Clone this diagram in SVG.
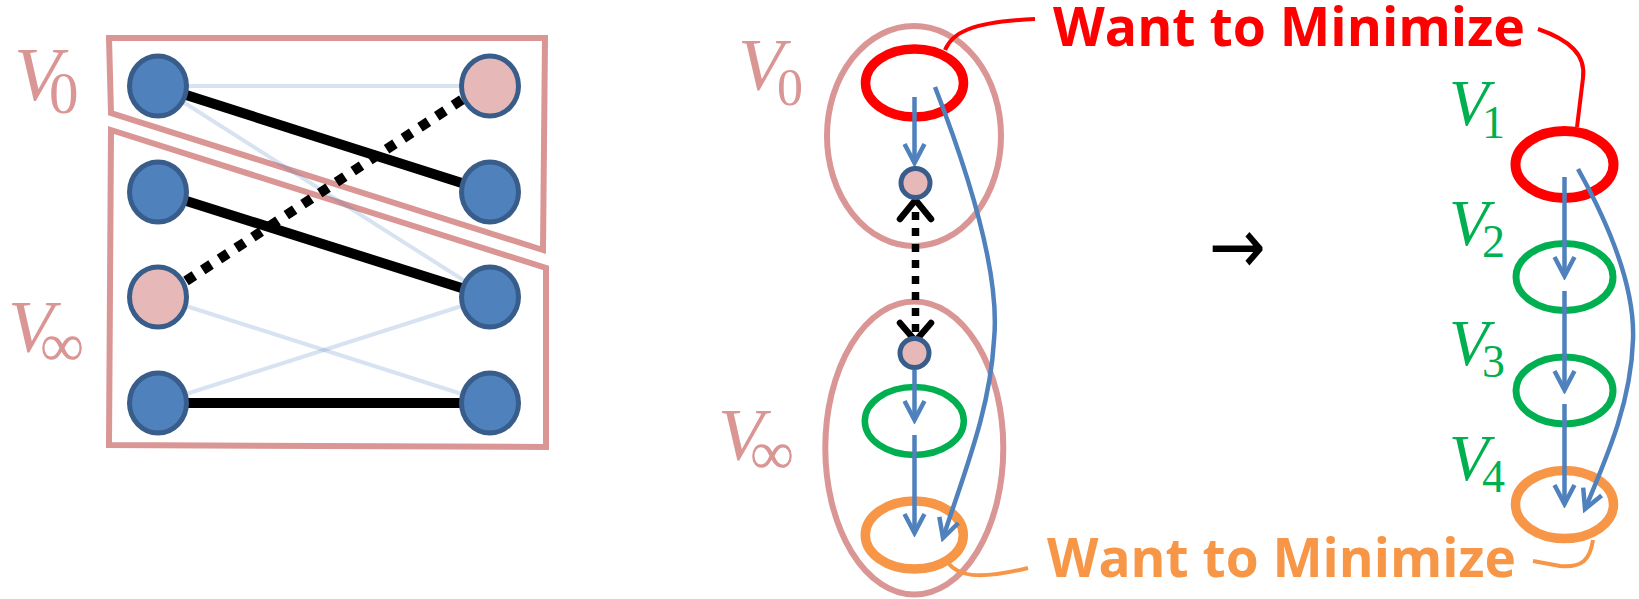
<svg xmlns="http://www.w3.org/2000/svg" width="1639" height="599" viewBox="0 0 1639 599">
  <style>
    .lbl { font-family: "Liberation Serif", "DejaVu Serif", serif; }
    .v { font-style: italic; }
    .pinkT { fill: #d99694; }
    .greenT { fill: #00b050; }
    .set { fill: none; stroke: #d99694; stroke-width: 6; stroke-linejoin: miter; }
    .node { fill: #4f81bd; stroke: #385d8a; stroke-width: 5; }
    .pnode { fill: #e6b9b8; stroke: #385d8a; stroke-width: 5; }
    .faint { stroke: #4f81bd; stroke-opacity: 0.22; stroke-width: 4; }
    .match { stroke: #000; stroke-width: 10; }
    .dot { stroke: #000; stroke-width: 10; stroke-dasharray: 10 10; }
    .arr { fill: none; stroke: #4f81bd; stroke-width: 4.5; marker-end: url(#ah); }
    .blk { fill: none; stroke: #000; stroke-width: 6.5; stroke-linecap: round; stroke-linejoin: round; }
    .big { font-family: "Open Sans", Lato, "Liberation Sans", sans-serif; font-weight: bold; font-size: 54px; }
    .ring { fill: none; }
  </style>
  <defs>
    <marker id="ah" viewBox="-24 -14 28 28" markerWidth="28" markerHeight="28" refX="0" refY="0" orient="auto" markerUnits="userSpaceOnUse">
      <path d="M-19,-10 L0,0 L-19,10" fill="none" stroke="#4f81bd" stroke-width="4.5"/>
    </marker>
  </defs>

  <!-- LEFT PANEL -->
  <g id="set-V0">
    <polygon class="set" points="109,38 545,38 543,250 111,113"/>
  </g>
  <g id="set-Vinf">
    <polygon class="set" points="111,130 546,268 546,447 109,445"/>
  </g>

  <g id="connectors-left">
    <line class="faint" x1="158" y1="86" x2="490" y2="86"/>
    <line class="faint" x1="158" y1="86" x2="490" y2="297"/>
    <line class="faint" x1="158" y1="297" x2="490" y2="403"/>
    <line class="faint" x1="158" y1="403" x2="490" y2="297"/>
    <line class="match" x1="158" y1="86" x2="490" y2="192"/>
    <line class="match" x1="158" y1="192" x2="490" y2="297"/>
    <line class="match" x1="158" y1="403" x2="490" y2="403"/>
  </g>

  <g id="nodeL1"><ellipse class="node" cx="158" cy="86" rx="28.5" ry="30"/></g>
  <g id="nodeL2"><ellipse class="node" cx="158" cy="192" rx="28.5" ry="30"/></g>
  <g id="nodeL3"><ellipse class="pnode" cx="158" cy="297" rx="28.5" ry="30"/></g>
  <g id="nodeL4"><ellipse class="node" cx="158" cy="403" rx="28.5" ry="30"/></g>
  <g id="nodeR1"><ellipse class="pnode" cx="490" cy="86" rx="28.5" ry="30"/></g>
  <g id="nodeR2"><ellipse class="node" cx="490" cy="192" rx="28.5" ry="30"/></g>
  <g id="nodeR3"><ellipse class="node" cx="490" cy="297" rx="28.5" ry="30"/></g>
  <g id="nodeR4"><ellipse class="node" cx="490" cy="403" rx="28.5" ry="30"/></g>

  <g id="connector-dotted">
    <line class="dot" x1="186" y1="281" x2="466" y2="97"/>
  </g>

  <g id="label-left">
    <text class="lbl pinkT"><tspan class="v" x="14" y="100" font-size="77">V</tspan><tspan x="49" y="113" font-size="59">0</tspan></text>
    <text class="lbl pinkT"><tspan class="v" x="8" y="352" font-size="75">V</tspan><tspan x="40" y="366" font-size="62">∞</tspan></text>
  </g>

  <!-- MIDDLE PANEL -->
  <g id="mid-V0">
    <ellipse class="ring" cx="914" cy="136" rx="87" ry="110" stroke="#d99694" stroke-width="6"/>
    <text class="lbl pinkT"><tspan class="v" x="738" y="90" font-size="75">V</tspan><tspan x="777" y="105" font-size="52">0</tspan></text>
  </g>
  <g id="mid-Vinf">
    <ellipse class="ring" cx="914.3" cy="448" rx="89" ry="146.5" stroke="#d99694" stroke-width="6"/>
    <text class="lbl pinkT"><tspan class="v" x="718" y="460" font-size="75">V</tspan><tspan x="750" y="474" font-size="62">∞</tspan></text>
  </g>
  <g id="mid-red"><ellipse class="ring" cx="914.5" cy="83" rx="49" ry="34" stroke="#ff0000" stroke-width="9.5"/></g>
  <g id="mid-green"><ellipse class="ring" cx="914.3" cy="421" rx="49.5" ry="34" stroke="#00b050" stroke-width="6.5"/></g>
  <g id="mid-orange"><ellipse class="ring" cx="914.3" cy="535" rx="49" ry="34" stroke="#f79646" stroke-width="9.5"/></g>

  <g id="connectors-mid">
    <line class="arr" x1="914.5" y1="97" x2="914.5" y2="163"/>
    <line class="arr" x1="914.5" y1="370" x2="914.5" y2="420"/>
    <line class="arr" x1="914.5" y1="435" x2="914.5" y2="533"/>
    <path class="arr" d="M935,87 C975,190 1000,280 994,340 C990,410 965,470 943,538"/>
    <line x1="915.5" y1="212" x2="915.5" y2="332" stroke="#000" stroke-width="7.5" stroke-dasharray="8 8"/>
    <path class="blk" d="M900,219 L915.5,200 L931,219"/>
    <path class="blk" d="M900,323 L915.5,341 L931,323"/>
    <path d="M945,50 C952,33 970,22 1035,19" fill="none" stroke="#ff0000" stroke-width="4"/>
    <path d="M948,563 C958,575 975,581 1028,568" fill="none" stroke="#f79646" stroke-width="4"/>
  </g>

  <g id="mid-node-top"><circle class="pnode" cx="915.5" cy="183" r="14.5" stroke-width="4.5"/></g>
  <g id="mid-node-bottom"><circle class="pnode" cx="914.5" cy="353" r="14.5" stroke-width="4.5"/></g>

  <g id="arrow-transform">
    <text x="1209" y="273" font-family="DejaVu Sans, sans-serif" font-size="78" textLength="57" lengthAdjust="spacingAndGlyphs" fill="#000">→</text>
  </g>

  <!-- RIGHT PANEL -->
  <g id="right-V1">
    <ellipse class="ring" cx="1564.5" cy="164.5" rx="49" ry="33.5" stroke="#ff0000" stroke-width="10"/>
    <text class="lbl greenT"><tspan class="v" x="1449" y="125" font-size="65">V</tspan><tspan x="1482" y="138" font-size="46">1</tspan></text>
  </g>
  <g id="right-V2">
    <ellipse class="ring" cx="1564.5" cy="277" rx="48.5" ry="33.5" stroke="#00b050" stroke-width="7"/>
    <text class="lbl greenT"><tspan class="v" x="1449" y="245" font-size="65">V</tspan><tspan x="1482" y="257" font-size="46">2</tspan></text>
  </g>
  <g id="right-V3">
    <ellipse class="ring" cx="1564.5" cy="390.5" rx="48.5" ry="33.5" stroke="#00b050" stroke-width="7"/>
    <text class="lbl greenT"><tspan class="v" x="1449" y="365" font-size="65">V</tspan><tspan x="1482" y="377" font-size="46">3</tspan></text>
  </g>
  <g id="right-V4">
    <ellipse class="ring" cx="1564.5" cy="504.5" rx="49" ry="34" stroke="#f79646" stroke-width="9.5"/>
    <text class="lbl greenT"><tspan class="v" x="1449" y="480" font-size="65">V</tspan><tspan x="1482" y="492" font-size="46">4</tspan></text>
  </g>

  <g id="connectors-right">
    <line class="arr" x1="1564.5" y1="177" x2="1564.5" y2="276"/>
    <line class="arr" x1="1564.5" y1="291" x2="1564.5" y2="390"/>
    <line class="arr" x1="1564.5" y1="404" x2="1564.5" y2="504"/>
    <path class="arr" d="M1578,169 C1612,230 1635,290 1633,340 C1631,400 1610,450 1585,509"/>
    <path d="M1577,127 L1583,78 C1586,55 1570,40 1538,29" fill="none" stroke="#ff0000" stroke-width="4"/>
    <path d="M1593,540 C1590,560 1582,568 1560,566 L1533,561" fill="none" stroke="#f79646" stroke-width="4"/>
  </g>

  <g id="note-red">
    <text class="big" x="1053" y="46" fill="#ff0000" textLength="472" lengthAdjust="spacingAndGlyphs">Want to Minimize</text>
  </g>
  <g id="note-orange">
    <text class="big" x="1047" y="577" fill="#f79646" textLength="469" lengthAdjust="spacingAndGlyphs">Want to Minimize</text>
  </g>
</svg>
